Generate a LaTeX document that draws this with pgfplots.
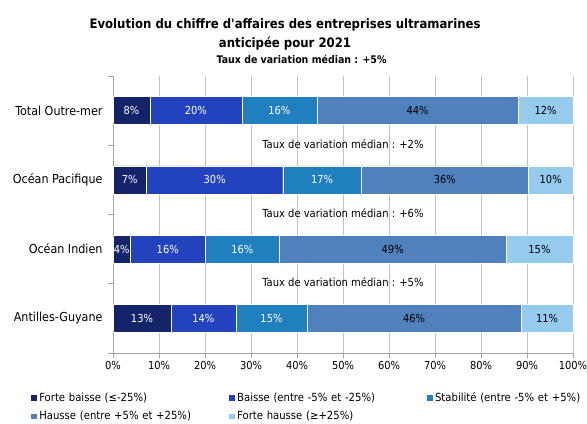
\documentclass[border=0pt]{standalone}
\usepackage{pgfplots}
\pgfplotsset{compat=1.18}
\usepackage{fontspec}
\setmainfont{DejaVu Sans Condensed}
\definecolor{cA}{HTML}{14246A}
\definecolor{cB}{HTML}{2343BE}
\definecolor{cC}{HTML}{1F7FBF}
\definecolor{cD}{HTML}{4F81BD}
\definecolor{cE}{HTML}{97CBEE}
\definecolor{gridc}{HTML}{C0C0C0}
\begin{document}
\begin{tikzpicture}
\path[use as bounding box] (0bp,0bp) rectangle (587bp,424bp);
\begin{axis}[
  at={(113bp,71bp)}, anchor=south west,
  width=460bp, height=277bp, scale only axis,
  xbar stacked, bar width=28bp,
  xmin=0, xmax=100, ymin=-0.5, ymax=3.5,
  axis x line*=bottom, axis y line*=left,
  axis line style={gridc!85!black, line width=0.75bp},
  xtick={0,10,...,100},
  xticklabel={\pgfmathprintnumber{\tick}\%},
  /pgf/number format/assume math mode=true,
  xmajorgrids, grid style={gridc, line width=0.9bp},
  tick align=outside, major tick length=5bp,
  tick style={gridc!85!black, line width=0.75bp},
  ytick={-0.5,0.5,1.5,2.5,3.5}, yticklabels={},
  extra y ticks={0,1,2,3},
  extra y tick labels={Antilles-Guyane,Océan Indien,Océan Pacifique,Total Outre-mer},
  extra y tick style={major tick length=0pt, yticklabel style={xshift=-7bp, font=\fontsize{12.4bp}{14bp}\selectfont}},
  xticklabel style={font=\fontsize{11bp}{13bp}\selectfont},
  clip=false,
  legend columns=3,
  legend cell align=left,
  legend image code/.code={\fill[#1] (0bp,-3.2bp) rectangle (6.5bp,3.2bp);},
  legend style={draw=none, fill=none, at={(-0.180,-0.142)}, anchor=north west,
    font=\fontsize{11.2bp}{13bp}\selectfont, row sep=8bp, column sep=0bp,
    inner sep=0bp,
    nodes={inner xsep=2bp, inner ysep=0bp, text width=187bp, align=left}},
]
\addplot[fill=cA, draw=white, line width=0.4bp] coordinates {(12.6,0) (3.8,1) (7.3,2) (8.0,3)};
\addplot[fill=cB, draw=white, line width=0.4bp] coordinates {(14.1,0) (16.2,1) (29.6,2) (20.0,3)};
\addplot[fill=cC, draw=white, line width=0.4bp] coordinates {(15.5,0) (16.2,1) (17.1,2) (16.3,3)};
\addplot[fill=cD, draw=white, line width=0.4bp] coordinates {(46.5,0) (49.2,1) (36.3,2) (43.8,3)};
\addplot[fill=cE, draw=white, line width=0.4bp] coordinates {(11.3,0) (14.6,1) (9.7,2) (11.9,3)};
\legend{Forte baisse (≤-25\%),Baisse (entre -5\% et -25\%),Stabilité (entre -5\% et +5\%),Hausse (entre +5\% et +25\%),Forte hausse (≥+25\%)}
\node[font=\fontsize{11.1bp}{13bp}\selectfont] at (axis cs:50,2.52) {Taux de variation médian : +2\%};
\node[font=\fontsize{11.1bp}{13bp}\selectfont] at (axis cs:50,1.52) {Taux de variation médian : +6\%};
\node[font=\fontsize{11.1bp}{13bp}\selectfont] at (axis cs:50,0.52) {Taux de variation médian : +5\%};
\node[font=\bfseries\fontsize{10.5bp}{12bp}\selectfont] at (axis cs:41,3.74) {Taux de variation médian : +5\%};
\node[font=\bfseries\fontsize{13bp}{18.5bp}\selectfont, align=center] at (axis description cs:0.374,1.150) {Evolution du chiffre d\textquotesingle affaires des entreprises ultramarines\\anticipée pour 2021};
\end{axis}
\begin{axis}[
  at={(113bp,71bp)}, anchor=south west,
  width=460bp, height=277bp, scale only axis,
  xmin=0, xmax=100, ymin=-0.5, ymax=3.5,
  hide axis, clip=false,
  nodes near coords, point meta=explicit symbolic,
  nodes near coords style={anchor=center, font=\fontsize{11bp}{12bp}\selectfont, inner sep=0bp},
]
\addplot[only marks, mark=*, mark size=0pt, mark options={draw=none, fill=none}, nodes near coords style={text=white}] coordinates {
  (6.3,0) [13\%] (1.9,1) [4\%] (3.65,2) [7\%] (4.0,3) [8\%]
  (19.65,0) [14\%] (11.9,1) [16\%] (22.1,2) [30\%] (18.0,3) [20\%]
  (34.45,0) [15\%] (28.1,1) [16\%] (45.45,2) [17\%] (36.15,3) [16\%]
};
\addplot[only marks, mark=*, mark size=0pt, mark options={draw=none, fill=none}, nodes near coords style={text=black}] coordinates {
  (65.45,0) [46\%] (60.8,1) [49\%] (72.15,2) [36\%] (66.2,3) [44\%]
  (94.35,0) [11\%] (92.7,1) [15\%] (95.15,2) [10\%] (94.05,3) [12\%]
};
\end{axis}
\end{tikzpicture}
\end{document}
